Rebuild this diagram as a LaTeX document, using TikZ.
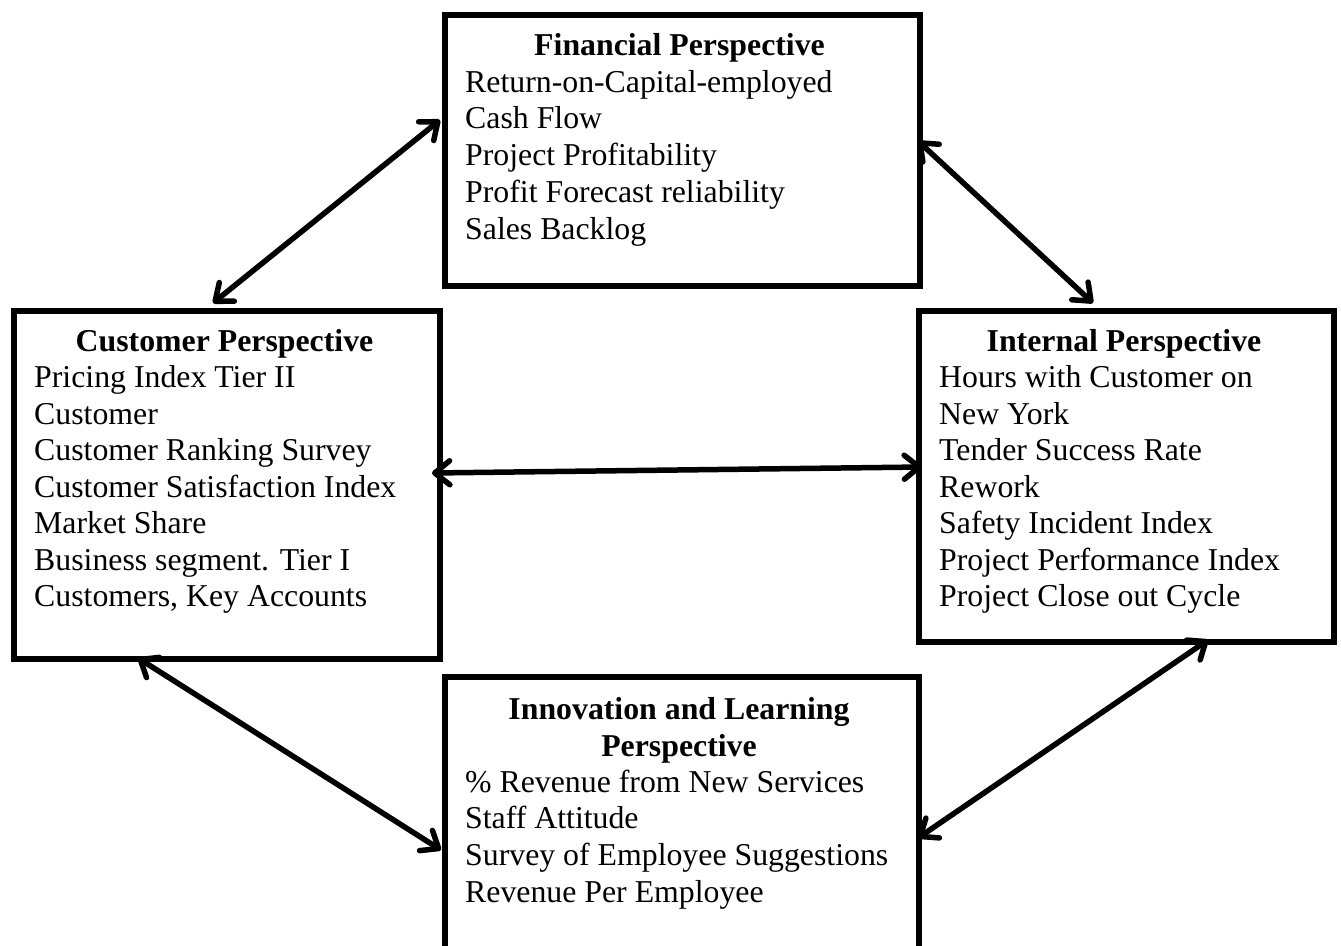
\documentclass[tikz,border=0pt]{standalone}
\usepackage{fontspec}
\setmainfont{Liberation Serif}
\usetikzlibrary{arrows.meta}
\begin{document}
\begin{tikzpicture}[x=1pt,y=-1pt,
  box/.style={draw, line width=5.5pt, inner sep=0pt, anchor=north west},
  item/.style={anchor=base west, inner sep=0pt, font=\fontsize{31.8}{36.8}\selectfont},
  head/.style={anchor=base, inner sep=0pt, font=\fontsize{31.8}{36.8}\selectfont\bfseries},
  link/.style={line width=5.5pt, {Straight Barb[length=15pt,width=24pt,round]}-{Straight Barb[length=15pt,width=24pt,round]}}]
\clip (0,0) rectangle (1341,945);
\fill[white] (0,0) rectangle (1341,945);
% boxes
\node[box, minimum width=475pt, minimum height=271pt] (fin) at (442,12) {};
\node[box, minimum width=426pt, minimum height=348pt] (cus) at (11,308) {};
\node[box, minimum width=415pt, minimum height=331pt] (int) at (916,308) {};
\node[box, minimum width=474pt, minimum height=300pt] (inn) at (442,674) {};
% titles
\node[head] (finT) at (679.5,55) {Financial Perspective};
\node[head] (cusT) at (224.5,351) {Customer Perspective};
\node[head] (intT) at (1124,351) {Internal Perspective};
\node[head] (innT1) at (679,719) {Innovation and Learning};
\node[head] (innT2) at (679,756) {Perspective};
% items
\foreach \t [count=\i] in {Return-on-Capital-employed, Cash Flow, Project Profitability, Profit Forecast reliability, Sales Backlog}
  \node[item] (fin-\i) at (465,{92+36.8*(\i-1)}) {\t};
\foreach \t [count=\i] in {Pricing Index Tier II, Customer, Customer Ranking Survey, Customer Satisfaction Index, Market Share, Business segment. Tier I, {Customers, Key Accounts}}
  \node[item] (cus-\i) at (34,{387.5+36.5*(\i-1)}) {\t};
\foreach \t [count=\i] in {Hours with Customer on, New York, Tender Success Rate, Rework, Safety Incident Index, Project Performance Index, Project Close out Cycle}
  \node[item] (int-\i) at (939,{387.5+36.5*(\i-1)}) {\t};
\foreach \t [count=\i] in {\% Revenue from New Services, Staff Attitude, Survey of Employee Suggestions, Revenue Per Employee}
  \node[item] (inn-\i) at (465,{792+36.8*(\i-1)}) {\t};
% arrow ends
\coordinate (a1) at (440,120);
\coordinate (b1) at (213,303);
\coordinate (a2) at (918,141);
\coordinate (b2) at (1093,303);
\coordinate (a3) at (432,473);
\coordinate (b3) at (922,467);
\coordinate (a4) at (138,658);
\coordinate (b4) at (441,850);
\coordinate (a5) at (1208,640);
\coordinate (b5) at (918,838);
\draw[link] (a1) -- (b1);
\draw[link] (a2) -- (b2);
\draw[link] (a3) -- (b3);
\draw[link] (a4) -- (b4);
\draw[link] (a5) -- (b5);
\end{tikzpicture}
\end{document}
